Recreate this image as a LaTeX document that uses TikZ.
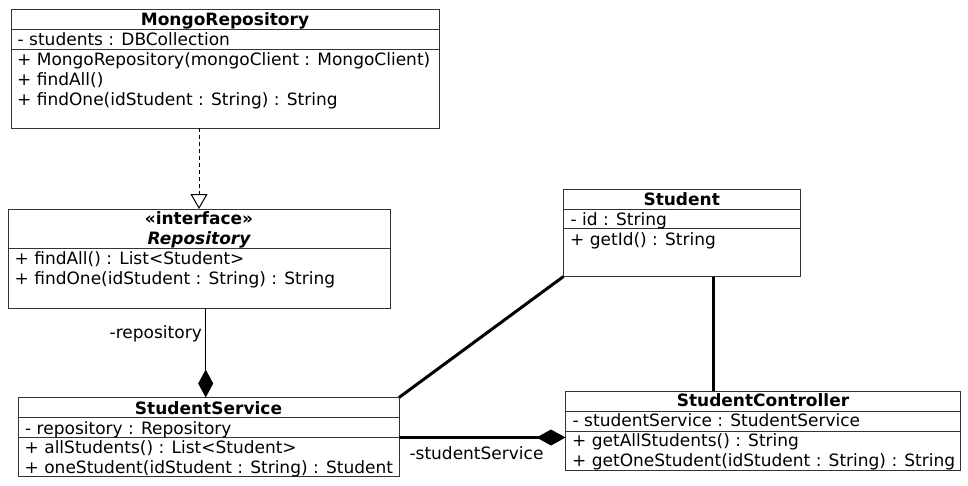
\documentclass[tikz,border=0pt]{standalone}
\usepackage{fontspec}
\setmainfont{DejaVu Sans}
\usetikzlibrary{arrows.meta,calc}
\begin{document}
\begin{tikzpicture}[x=1pt,y=-1pt,
  box/.style={draw=black!80, line width=1pt, inner sep=0pt, outer sep=0pt, anchor=north west},
  ttl/.style={font=\fontsize{17}{20}\selectfont\bfseries, inner sep=0pt, anchor=base},
  txt/.style={font=\fontsize{17}{20}\selectfont, inner sep=0pt, anchor=base west},
  lbl/.style={font=\fontsize{17}{20}\selectfont, inner sep=0pt},
  sepline/.style={draw=black!80, line width=1pt},
  thickline/.style={line width=3pt},
  thinline/.style={line width=1pt},
]
\useasboundingbox (0,0) rectangle (968,485);

% MongoRepository
\node[box, minimum width=428pt, minimum height=119pt] (mongo) at (11,9) {};
\draw[sepline] (11,29) -- (439,29) (11,49) -- (439,49);
\node[ttl] (mongo-t) at (225,25.5) {MongoRepository};
\node[txt] (mongo-a) at (17.5,45) {- students : DBCollection};
\node[txt] (mongo-m1) at (17,65) {+ MongoRepository(mongoClient : MongoClient)};
\node[txt] (mongo-m2) at (17,85) {+ findAll()};
\node[txt] (mongo-m3) at (17,105) {+ findOne(idStudent : String) : String};

% Repository
\node[box, minimum width=382pt, minimum height=99pt] (repo) at (8,209) {};
\draw[sepline] (8,248) -- (390,248);
\node[ttl] (repo-s) at (199,224) {«interface»};
\node[ttl, font=\fontsize{17}{20}\selectfont\bfseries\itshape] (repo-t) at (199,244.5) {Repository};
\node[txt] (repo-m1) at (14.5,264.5) {+ findAll() : List<Student>};
\node[txt] (repo-m2) at (14.5,284) {+ findOne(idStudent : String) : String};

% StudentService
\node[box, minimum width=381pt, minimum height=79pt] (svc) at (18,397.5) {};
\draw[sepline] (18,417.5) -- (399,417.5) (18,437.5) -- (399,437.5);
\node[ttl] (svc-t) at (208.5,414) {StudentService};
\node[txt] (svc-a) at (25,434) {- repository : Repository};
\node[txt] (svc-m1) at (24.5,453.5) {+ allStudents() : List<Student>};
\node[txt] (svc-m2) at (24.5,473) {+ oneStudent(idStudent : String) : Student};

% Student
\node[box, minimum width=236.5pt, minimum height=87.5pt] (stud) at (563.5,189) {};
\draw[sepline] (563.5,209) -- (800,209) (563.5,228.5) -- (800,228.5);
\node[ttl] (stud-t) at (681.7,205) {Student};
\node[txt] (stud-a) at (570.5,225) {- id : String};
\node[txt] (stud-m1) at (570,245) {+ getId() : String};

% StudentController
\node[box, minimum width=395pt, minimum height=79.5pt] (ctrl) at (565.5,391) {};
\draw[sepline] (565.5,411) -- (960.5,411) (565.5,431) -- (960.5,431);
\node[ttl] (ctrl-t) at (763,406.7) {StudentController};
\node[txt] (ctrl-a) at (572.5,426.7) {- studentService : StudentService};
\node[txt] (ctrl-m1) at (572,446.7) {+ getAllStudents() : String};
\node[txt] (ctrl-m2) at (572,466.7) {+ getOneStudent(idStudent : String) : String};

% helper coordinates
\coordinate (xr) at (205.7,0);
\coordinate (xc) at (713,0);
\coordinate (ys) at (0,437.5);

% connectors
\draw[thinline, dash pattern=on 4pt off 3pt, -{Triangle[open, length=15pt, width=17pt]}]
  (repo.north |- mongo.south) -- (repo.north);
\draw[thinline, -{Diamond[length=28pt, width=15pt, line width=0pt]}]
  (repo.south -| xr) -- (svc.north -| xr);
\draw[thickline] (stud.south west) -- (svc.north east);
\draw[thickline] (stud.south -| xc) -- (ctrl.north -| xc);
\draw[thickline, -{Diamond[length=29pt, width=16pt, line width=0pt]}]
  (svc.east |- ys) -- (ctrl.west |- ys);

% labels
\node[lbl, anchor=base east] (lbl-repo) at (202,338.3) {-repository};
\node[lbl, anchor=base] (lbl-svc) at (476.5,459.3) {-studentService};
\end{tikzpicture}
\end{document}
